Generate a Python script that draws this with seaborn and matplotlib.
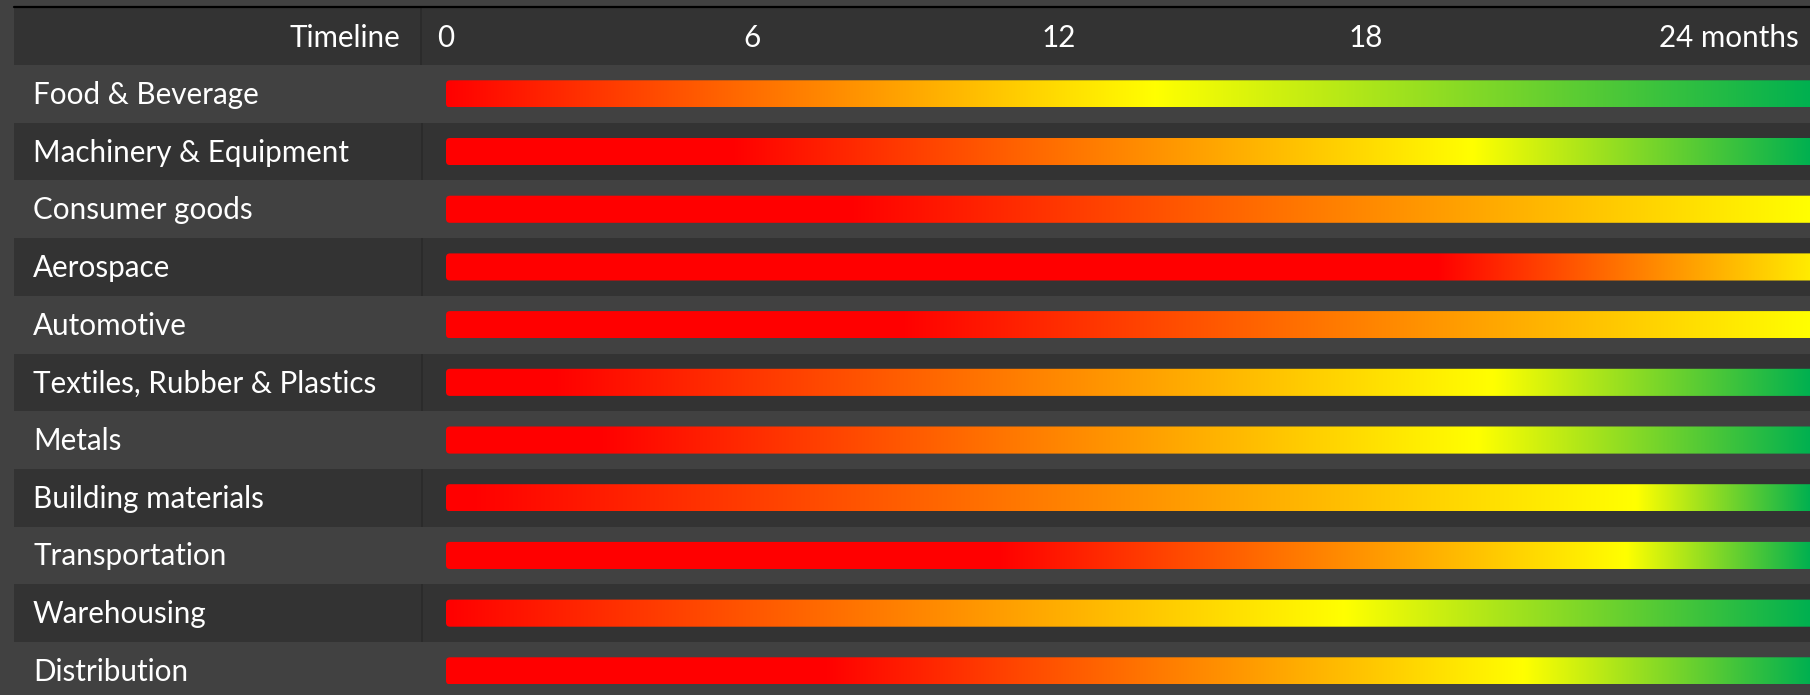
import numpy as np
import pandas as pd
import matplotlib
matplotlib.use("Agg")
import matplotlib.pyplot as plt
import seaborn as sns
from matplotlib.patches import FancyBboxPatch
from matplotlib.lines import Line2D
from matplotlib.transforms import blended_transform_factory


SECTORS = [
    "Food & Beverage",
    "Machinery & Equipment",
    "Consumer goods",
    "Aerospace",
    "Automotive",
    "Textiles, Rubber & Plastics",
    "Metals",
    "Building materials",
    "Transportation",
    "Warehousing",
    "Distribution",
]

# months shown on each bar (all run past the right edge of the timeline)
BAR_SPAN = [27.0, 27.0, 27.0, 27.0, 27.0, 27.0, 27.0, 27.0, 27.0, 27.0, 27.0]

# gradient stops, in months
RED_UNTIL = [0.0, 5.6, 7.9, 19.4, 8.9, 2.1, 3.0, 0.5, 10.8, 0.0, 7.4]
YELLOW_AT = [13.9, 20.1, 26.7, 27.3, 26.7, 20.5, 20.2, 23.3, 23.1, 17.6, 21.1]
GREEN_AT = [26.7, 26.7, None, None, None, 26.7, 26.7, 26.7, 26.7, 26.7, 26.7]

TICK_MONTHS = [0, 6, 12, 18, 24]
TICK_LABELS = ["0", "6", "12", "18", "24 months"]

RED = (1.0, 0.0, 0.0)
YELLOW = (1.0, 1.0, 0.0)
GREEN = (0.0, 176 / 255, 80 / 255)

BG_LIGHT = "#414141"
BG_DARK = "#333333"
DIVIDER = "#2a2a2a"

W, H = 1810, 695
ROW_PX = 57.7
HEAD_TOP, HEAD_BOT = 8, 65
LABEL_LEFT, LABEL_RIGHT = 14, 421
ZERO_PX, PX_PER_MONTH = 446, 51.08
FONT_SIZE = 21.3


def fx(px):
    return px / W


def gradient_row(x_vals, red_until, yellow_at, green_at):
    stops = [0.0, red_until, yellow_at]
    colors = [RED, RED, YELLOW]
    if green_at is not None:
        stops.append(green_at)
        colors.append(GREEN)
    stops = np.maximum.accumulate(np.array(stops) + np.arange(len(stops)) * 1e-6)
    colors = np.array(colors)
    rgb = np.stack(
        [np.interp(x_vals, stops, colors[:, c]) for c in range(3)],
        axis=-1
    )
    return rgb[np.newaxis, :, :]


sns.set_theme(style="dark")
plt.rcParams["font.family"] = ["Lato", "DejaVu Sans"]

df = pd.DataFrame({"sector": SECTORS, "span": BAR_SPAN})

fig = plt.figure(figsize=(W / 100, H / 100), dpi=100, facecolor=BG_LIGHT)

body_h = (H - HEAD_BOT) / H
ax_lab = fig.add_axes([fx(LABEL_LEFT), 0, fx(LABEL_RIGHT - LABEL_LEFT), body_h])
ax_bar = fig.add_axes([fx(LABEL_RIGHT), 0, fx(W - LABEL_RIGHT), body_h])
ax_head = fig.add_axes([fx(LABEL_LEFT), 1 - HEAD_BOT / H,
                        fx(W - LABEL_LEFT), (HEAD_BOT - HEAD_TOP) / H])

n_rows = len(SECTORS)
y_bottom = -0.5 + (H - HEAD_BOT) / ROW_PX

sns.barplot(data=df, x="span", y="sector", orient="h", width=0.47,
            color="red", ax=ax_bar, zorder=3)

x_left = (LABEL_RIGHT - ZERO_PX) / PX_PER_MONTH
x_right = (W - ZERO_PX) / PX_PER_MONTH

radius_x = 4 / PX_PER_MONTH
aspect = (4 / ROW_PX) / radius_x

bars = sorted(ax_bar.patches, key=lambda p: p.get_y())
for i, patch in enumerate(bars):
    x0, y0 = patch.get_x(), patch.get_y()
    w, h = patch.get_width(), patch.get_height()
    patch.set_visible(False)

    shape = FancyBboxPatch(
        (x0, y0), w, h,
        boxstyle=f"round,pad=0,rounding_size={radius_x}",
        mutation_aspect=aspect,
        facecolor="none",
        edgecolor="none",
        transform=ax_bar.transData
    )
    ax_bar.add_patch(shape)

    x_vals = np.linspace(x0, x0 + w, 1200)
    img = gradient_row(x_vals, RED_UNTIL[i], YELLOW_AT[i], GREEN_AT[i])
    im = ax_bar.imshow(img, extent=[x0, x0 + w, y0 + h, y0],
                       aspect="auto", interpolation="bilinear", zorder=3)
    im.set_clip_path(shape)

for ax in (ax_lab, ax_bar):
    ax.set_facecolor(BG_LIGHT)
    ax.set_ylim(y_bottom, -0.5)
    for i in range(n_rows):
        if i % 2 == 1:
            ax.axhspan(i - 0.5, i + 0.5, color=BG_DARK, lw=0, zorder=1)
    ax.set_xticks([])
    ax.set_yticks([])
    ax.set_xlabel("")
    ax.set_ylabel("")
    for spine in ax.spines.values():
        spine.set_visible(False)

ax_bar.set_xlim(x_left, x_right)
ax_lab.set_xlim(LABEL_LEFT, LABEL_RIGHT)

# thin divider between label column and timeline, only on the dark rows
for i in range(n_rows):
    if i % 2 == 1:
        ax_bar.vlines(x_left + 0.01, i - 0.5, i + 0.5, color=DIVIDER,
                      lw=1.2, zorder=2)

baseline_shift = 10 / ROW_PX
for i, name in enumerate(SECTORS):
    ax_lab.text(33, i + baseline_shift, name, color="white",
                fontsize=FONT_SIZE, va="baseline", ha="left", zorder=4)

# header row
ax_head.set_facecolor(BG_DARK)
ax_head.set_xlim(LABEL_LEFT, W)
ax_head.set_ylim(0, 1)
ax_head.set_xticks([])
ax_head.set_yticks([])
for spine in ax_head.spines.values():
    spine.set_visible(False)
ax_head.axvline(LABEL_RIGHT, color=DIVIDER, lw=1.2)

head_base = 0.5 - 10.5 / (HEAD_BOT - HEAD_TOP)
ax_head.text(400, head_base, "Timeline", color="white", fontsize=FONT_SIZE,
             ha="right", va="baseline")

head_trans = blended_transform_factory(ax_bar.transData, ax_head.transAxes)
for month, label in zip(TICK_MONTHS, TICK_LABELS):
    if label == TICK_LABELS[-1]:
        ax_head.annotate(label, xy=(month, head_base), xycoords=head_trans,
                         xytext=(-13, 0), textcoords="offset pixels",
                         color="white", fontsize=FONT_SIZE,
                         ha="left", va="baseline")
    else:
        ax_head.text(month, head_base, label, transform=head_trans,
                     color="white", fontsize=FONT_SIZE,
                     ha="center", va="baseline")

fig.add_artist(Line2D([fx(LABEL_LEFT), 1], [1 - 7 / H, 1 - 7 / H],
                      color="black", lw=1.6, transform=fig.transFigure))

fig.savefig("out.png", dpi=100, facecolor=BG_LIGHT)
plt.close(fig)
